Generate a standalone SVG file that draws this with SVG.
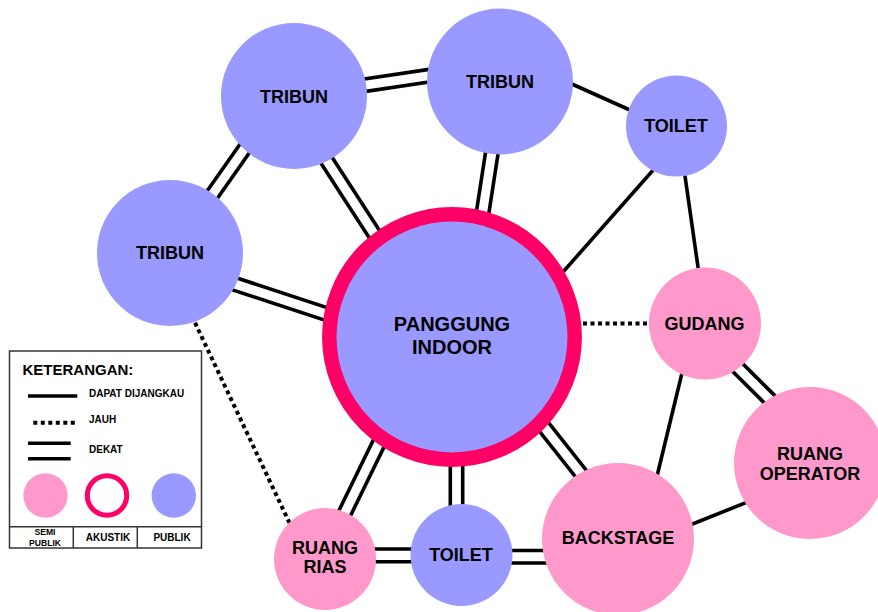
<svg xmlns="http://www.w3.org/2000/svg" width="878" height="612" viewBox="0 0 878 612">
<style>
.bg{fill:#ffffff}
.ln{stroke:#000;stroke-width:3.6;fill:none;stroke-linecap:butt}
.dot{stroke:#000;stroke-width:4;fill:none;stroke-dasharray:4 3.5}
.pub{fill:#9999ff}
.semi{fill:#ff99cc}
.aku{fill:none;stroke:#ff0066}
.lbl{font-family:"Liberation Sans",Arial,sans-serif;font-weight:bold;font-size:18px;fill:#000;text-anchor:middle}
.big{font-size:20px}
.lg{font-family:"Liberation Sans",Arial,sans-serif;font-weight:bold;fill:#000}
</style>
<rect class="bg" x="0" y="0" width="878" height="612"/>
<g id="connectors">
  <!-- double: tribun TL - tribun T -->
  <line class="ln" x1="349.1" y1="81.2" x2="439.1" y2="67.9"/>
  <line class="ln" x1="350.9" y1="93.6" x2="440.9" y2="80.3"/>
  <!-- double: tribun L - tribun TL -->
  <line class="ln" x1="188.0" y1="218.3" x2="261.7" y2="113.3"/>
  <line class="ln" x1="198.3" y1="225.5" x2="272.0" y2="120.5"/>
  <!-- double: tribun L - panggung -->
  <line class="ln" x1="202.4" y1="266.6" x2="370.4" y2="321.9"/>
  <line class="ln" x1="198.4" y1="278.6" x2="366.4" y2="333.9"/>
  <!-- double: tribun TL - panggung -->
  <line class="ln" x1="299.3" y1="129.7" x2="390.9" y2="271.3"/>
  <line class="ln" x1="309.9" y1="122.9" x2="401.5" y2="264.5"/>
  <!-- double: tribun T - panggung -->
  <line class="ln" x1="490.7" y1="119.0" x2="469.1" y2="259.0"/>
  <line class="ln" x1="503.1" y1="121.0" x2="481.5" y2="261.0"/>
  <!-- single: tribun T - toilet TR -->
  <line class="ln" x1="545" y1="72" x2="650" y2="119"/>
  <!-- single: toilet TR - panggung -->
  <line class="ln" x1="670" y1="151" x2="540" y2="298"/>
  <!-- single: toilet TR - gudang -->
  <line class="ln" x1="682" y1="155" x2="702" y2="295"/>
  <!-- dotted: panggung - gudang -->
  <line class="dot" x1="583" y1="323.5" x2="652" y2="323.5"/>
  <!-- double: gudang - ruang operator -->
  <line class="ln" x1="713.4" y1="334.5" x2="803.4" y2="424.1"/>
  <line class="ln" x1="704.6" y1="343.5" x2="794.6" y2="433.1"/>
  <!-- single: gudang - backstage -->
  <line class="ln" x1="690" y1="340" x2="650" y2="505"/>
  <!-- single: ruang operator - backstage -->
  <line class="ln" x1="670" y1="533" x2="770" y2="493"/>
  <!-- double: panggung - backstage -->
  <line class="ln" x1="502.4" y1="364.4" x2="613.3" y2="504.4"/>
  <line class="ln" x1="492.6" y1="372.2" x2="603.5" y2="512.2"/>
  <!-- double: panggung - toilet bottom -->
  <line class="ln" x1="450.3" y1="440" x2="450.3" y2="530"/>
  <line class="ln" x1="462.7" y1="440" x2="462.7" y2="530"/>
  <!-- double: panggung - ruang rias -->
  <line class="ln" x1="316.0" y1="557.5" x2="399.3" y2="386.8"/>
  <line class="ln" x1="327.4" y1="563.1" x2="410.7" y2="392.4"/>
  <!-- double: ruang rias - toilet bottom -->
  <line class="ln" x1="340" y1="549" x2="440" y2="549"/>
  <line class="ln" x1="340" y1="561.7" x2="440" y2="561.7"/>
  <!-- double: toilet bottom - backstage -->
  <line class="ln" x1="480" y1="550.5" x2="580" y2="550.5"/>
  <line class="ln" x1="480" y1="563" x2="580" y2="563"/>
  <!-- dotted: tribun L - ruang rias -->
  <line class="dot" x1="195" y1="322.7" x2="290" y2="524"/>
</g>
<g id="node-tribun-left">
  <circle class="pub" cx="170" cy="253" r="73"/>
  <text class="lbl" x="170" y="258.5">TRIBUN</text>
</g>
<g id="node-tribun-topleft">
  <circle class="pub" cx="294" cy="96" r="73"/>
  <text class="lbl" x="294" y="102.5">TRIBUN</text>
</g>
<g id="node-tribun-top">
  <circle class="pub" cx="500" cy="81.5" r="73"/>
  <text class="lbl" x="500" y="87.5">TRIBUN</text>
</g>
<g id="node-toilet-top">
  <circle class="pub" cx="676.5" cy="126" r="50.5"/>
  <text class="lbl" x="676" y="132">TOILET</text>
</g>
<g id="node-gudang">
  <circle class="semi" cx="705" cy="323.5" r="56"/>
  <text class="lbl" x="704.5" y="330">GUDANG</text>
</g>
<g id="node-ruang-operator">
  <circle class="semi" cx="810" cy="463" r="76"/>
  <text class="lbl" x="810" y="459.5">RUANG</text>
  <text class="lbl" x="810" y="480">OPERATOR</text>
</g>
<g id="node-backstage">
  <circle class="semi" cx="618" cy="539" r="76"/>
  <text class="lbl" x="618" y="543.5">BACKSTAGE</text>
</g>
<g id="node-toilet-bottom">
  <circle class="pub" cx="461.5" cy="555" r="51"/>
  <text class="lbl" x="461" y="561">TOILET</text>
</g>
<g id="node-ruang-rias">
  <circle class="semi" cx="325" cy="559" r="51"/>
  <text class="lbl" x="325" y="553.5">RUANG</text>
  <text class="lbl" x="325" y="573">RIAS</text>
</g>
<g id="node-panggung-indoor">
  <circle class="pub" cx="452" cy="337" r="122.7"/>
  <circle class="aku" cx="452" cy="337" r="122.7" stroke-width="14.5"/>
  <text class="lbl big" x="452" y="331">PANGGUNG</text>
  <text class="lbl big" x="452" y="354">INDOOR</text>
</g>
<g id="legend">
  <rect x="9.5" y="351" width="192" height="197" fill="#fff" stroke="#333" stroke-width="1.5"/>
  <line x1="9.5" y1="526.7" x2="201.5" y2="526.7" stroke="#333" stroke-width="1.5"/>
  <line x1="73.3" y1="526.7" x2="73.3" y2="548" stroke="#333" stroke-width="1.5"/>
  <line x1="137.3" y1="526.7" x2="137.3" y2="548" stroke="#333" stroke-width="1.5"/>
  <text class="lg" x="22.5" y="375" font-size="15">KETERANGAN:</text>
  <line class="ln" x1="28" y1="396" x2="77.3" y2="396"/>
  <text class="lg" x="89" y="397" font-size="10">DAPAT DIJANGKAU</text>
  <line class="dot" x1="33.3" y1="422.7" x2="75" y2="422.7"/>
  <text class="lg" x="89" y="423" font-size="10">JAUH</text>
  <line class="ln" x1="28" y1="443.3" x2="70.7" y2="443.3"/>
  <line class="ln" x1="28" y1="458.7" x2="70.7" y2="458.7"/>
  <text class="lg" x="89" y="452.5" font-size="10">DEKAT</text>
  <circle class="semi" cx="45.5" cy="495.5" r="22.2"/>
  <circle class="aku" cx="107" cy="495.5" r="19.7" stroke-width="5"/>
  <circle class="pub" cx="173.8" cy="495.5" r="22.2"/>
  <text class="lg" x="45" y="535" font-size="8.6" text-anchor="middle">SEMI</text>
  <text class="lg" x="45" y="545.5" font-size="8.6" text-anchor="middle">PUBLIK</text>
  <text class="lg" x="108" y="540.7" font-size="10" text-anchor="middle">AKUSTIK</text>
  <text class="lg" x="172" y="540.7" font-size="10" text-anchor="middle">PUBLIK</text>
</g>
</svg>
